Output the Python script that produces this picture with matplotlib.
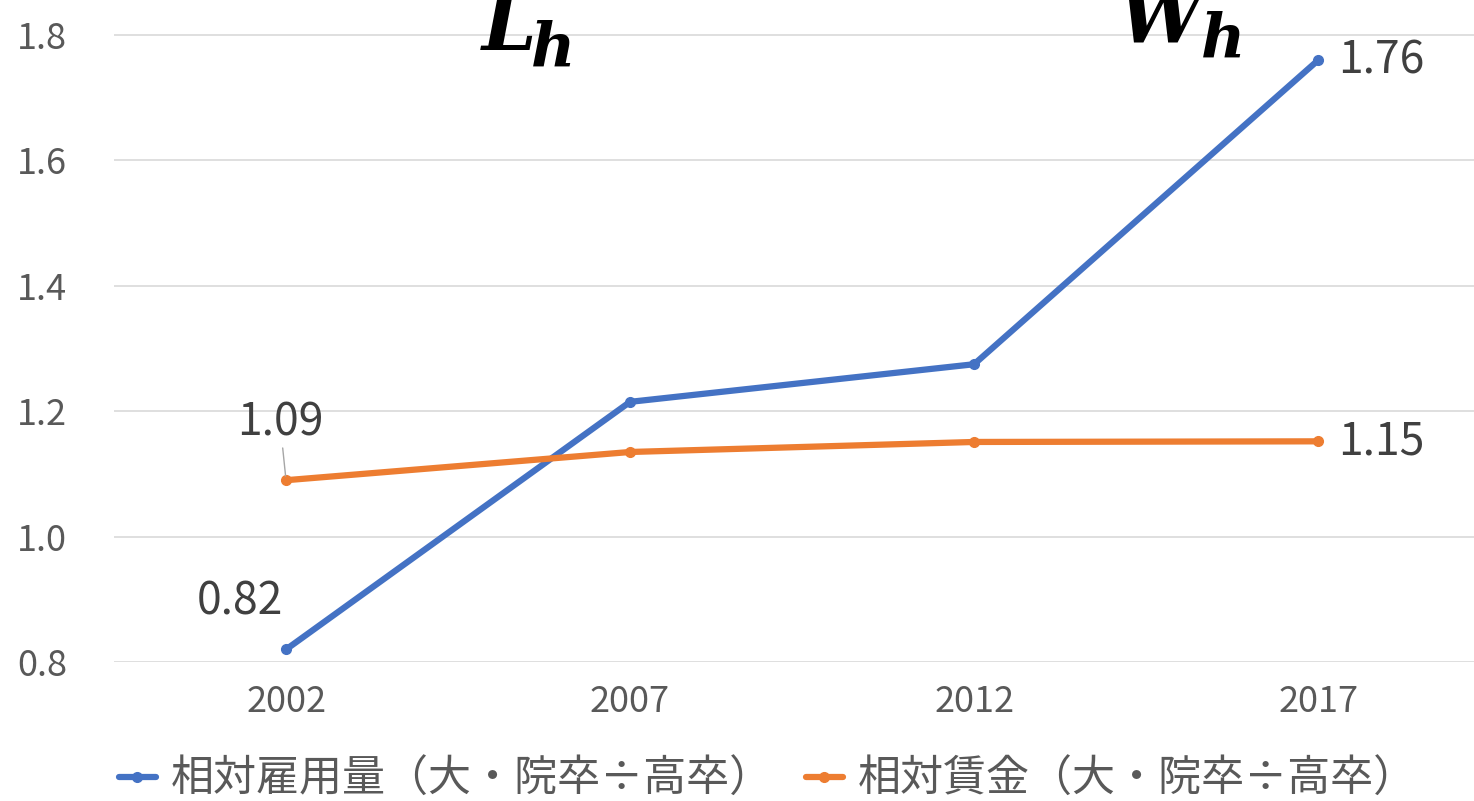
import matplotlib
matplotlib.use('Agg')
import matplotlib.pyplot as plt

plt.rcParams['font.family'] = ['Noto Sans CJK JP', 'DejaVu Sans']
plt.rcParams['mathtext.fontset'] = 'dejavuserif'

# data
years = ['2002', '2007', '2012', '2017']
rel_employment = [0.82, 1.215, 1.275, 1.76]   # 相対雇用量
rel_wage = [1.09, 1.135, 1.151, 1.152]         # 相対賃金
series_names = ['相対雇用量（大・院卒÷高卒）', '相対賃金（大・院卒÷高卒）']
yticks = [0.8, 1.0, 1.2, 1.4, 1.6, 1.8]

blue = '#4472C4'
orange = '#ED7D31'
grid_c = '#D9D9D9'
tick_c = '#595959'
label_c = '#404040'

W, H = 1474, 801
fig = plt.figure(figsize=(W / 100, H / 100), dpi=100)
ax = fig.add_axes([114 / W, 1 - 662 / H, 1 - 114 / W, 662 / H])

x = list(range(len(years)))
l1, = ax.plot(x, rel_employment, color=blue, lw=4.5, marker='o', ms=7,
              solid_capstyle='round', label=series_names[0], zorder=3)
l2, = ax.plot(x, rel_wage, color=orange, lw=4.5, marker='o', ms=7,
              solid_capstyle='round', label=series_names[1], zorder=3)

ax.set_xlim(-0.5, 3.453)
ax.set_ylim(0.8, 1.856)
ax.set_yticks(yticks)
ax.set_yticklabels([f'{v:.1f}' for v in yticks])
ax.set_xticks(x)
ax.set_xticklabels(years)
ax.grid(axis='y', color=grid_c, lw=1.2)
ax.set_axisbelow(True)
for s in ax.spines.values():
    s.set_visible(False)
ax.tick_params(length=0, colors=tick_c, labelsize=26)
ax.tick_params(axis='y', pad=34)
ax.tick_params(axis='x', pad=16)

# end point labels
fs = 32
ax.annotate(f'{rel_employment[0]:.2f}', (x[0], rel_employment[0]), xytext=(-46, 48),
            textcoords='offset pixels', ha='center', va='center', fontsize=fs, color=label_c)
ax.annotate(f'{rel_wage[0]:.2f}', (x[0], rel_wage[0]), xytext=(-6, 58),
            textcoords='offset pixels', ha='center', va='center', fontsize=fs, color=label_c,
            arrowprops=dict(arrowstyle='-', color='#A6A6A6', lw=1, shrinkA=26, shrinkB=3))
ax.annotate(f'{rel_employment[3]:.2f}', (x[3], rel_employment[3]), xytext=(20, 0),
            textcoords='offset pixels', ha='left', va='center', fontsize=fs, color=label_c)
ax.annotate(f'{rel_wage[3]:.2f}', (x[3], rel_wage[3]), xytext=(20, 0),
            textcoords='offset pixels', ha='left', va='center', fontsize=fs, color=label_c)

# symbols L_h and W_h (big letter + separate subscript)
fig.text(480 / W, 1 - 50 / H, r'$\mathbfit{L}$', fontsize=56, color='black',
         ha='left', va='baseline')
fig.text(530 / W, 1 - 67 / H, r'$\mathbfit{h}$', fontsize=44, color='black',
         ha='left', va='baseline')
fig.text(1118 / W, 1 - 42 / H, r'$\mathbfit{W}$', fontsize=54, color='black',
         ha='left', va='baseline')
fig.text(1200 / W, 1 - 58 / H, r'$\mathbfit{h}$', fontsize=44, color='black',
         ha='left', va='baseline')

leg = fig.legend(handles=[l1, l2], loc='lower center', bbox_to_anchor=(0.521, -0.05),
                 ncol=2, frameon=False, fontsize=31, handlelength=0.85,
                 handletextpad=0.35, columnspacing=0.77, labelcolor=tick_c)

fig.savefig('out.png', dpi=100)
